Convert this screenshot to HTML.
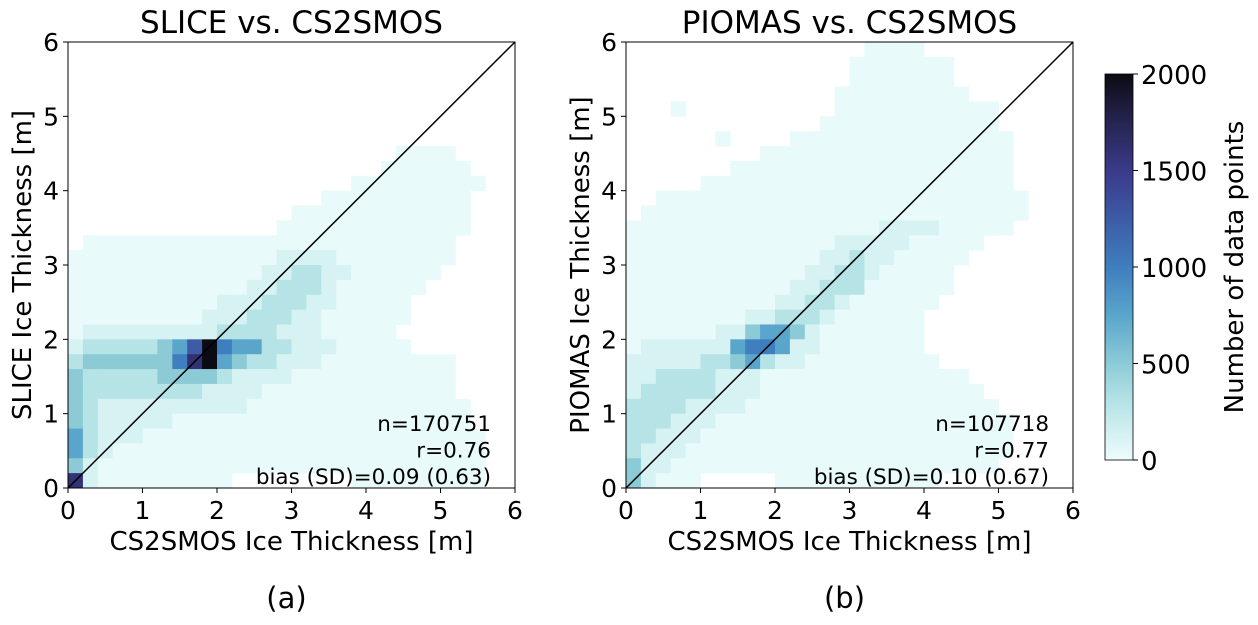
<!DOCTYPE html>
<html><head><meta charset="utf-8"><style>
body{margin:0;background:#fff;}
svg{display:block;font-family:"DejaVu Sans","Liberation Sans",sans-serif;}
</style></head><body>
<svg id="chart" width="1258" height="625" viewBox="0 0 1258 625">
<defs>
<linearGradient id="cbgrad" x1="0" y1="1" x2="0" y2="0">
<stop offset="0" stop-color="#eefcfc"/><stop offset="0.15" stop-color="#b5e3e6"/><stop offset="0.25" stop-color="#8ccbd6"/><stop offset="0.375" stop-color="#5aa5cc"/><stop offset="0.5" stop-color="#3f7ebf"/><stop offset="0.625" stop-color="#3d5ba6"/><stop offset="0.75" stop-color="#3a3a8a"/><stop offset="0.875" stop-color="#262450"/><stop offset="1" stop-color="#0c0b14"/>
</linearGradient>
</defs>
<g id="layer"></g>
</svg>
<script>
const levelCounts=[0,30,120,300,500,750,1000,1250,1600,2000];
const gridSlice=[
"000000000000000000000000000000","000000000000000000000000000000","000000000000000000000000000000","000000000000000000000000000000","000000000000000000000000000000","000000000000000000000000000000","000000000000000000000000000000",
"000000000000000000000011110000","000000000000000000000111111000","000000000000000000011111111100","000000000000000001111111111000","000000000000000111111111111000","000000000000001111111111111000",
"011111111111111111111111110000","111111111111112222111111110000","111111111111122332211111100000","111111111111223332111111000000","111111111122233322111110000000","111111111222333221111110000000",
"122222222233332221111100000000","233333457965533222111110000000","344444468954332221111111110000","433333444432222111111111110000","433333333222211111111111110000","432222222222111111111111111000",
"432222211111111111111111111000","532221111111111111111111111100","532111111111111111111111111100","421111111111111111111111111100","821111111110000000011111111100"];
const gridPiomas=[
"000000000000000011110000000000","000000000000000111111100000000","000000000000000111111100000000","000000000000001111111110000000","000100000000001111111111100000","000000000000011111111111100000",
"000000100001111111111111110000","000000000111111111111111110000","000000011111111111111111110000","000001111111111111111111110000","001111111111111111111111111000","011111111111111111111111111000",
"111111111111111112222111110000","111111111111112222211111000000","111111111111122322111110000000","111111111111223321111100000000","111111111112233311111100000000","111111111122332111111000000000",
"111111112233321111110000000000","111111224554211111110000000000","122222256652211111110000000000","222223345322111111111000000000","223333222111111111111110000000","233333222111111111111111000000",
"333322221111111111111111100000","333222111111111111111111110000","332221111111111111111111110000","322211111111111111111111110000","422111111111111111111111100000","421110000011111111111000000000"];
const axisTicks=[0,1,2,3,4,5,6];
const cbTicks=[0,500,1000,1500,2000];
const panels=[
 {x0:68,grid:gridSlice,title:"SLICE vs. CS2SMOS",ylab:"SLICE Ice Thickness [m]",xlab:"CS2SMOS Ice Thickness [m]",tag:"(a)",ann:["n=170751","r=0.76","bias (SD)=0.09 (0.63)"],name:"slice"},
 {x0:626,grid:gridPiomas,title:"PIOMAS vs. CS2SMOS",ylab:"PIOMAS Ice Thickness [m]",xlab:"CS2SMOS Ice Thickness  [m]",tag:"(b)",ann:["n=107718","r=0.77","bias (SD)=0.10 (0.67)"],name:"piomas"}];
const stops=[[0,[238,252,252]],[300,[181,227,230]],[500,[140,203,214]],[750,[90,165,204]],[1000,[63,126,191]],[1250,[61,91,166]],[1500,[58,58,138]],[1750,[38,36,80]],[2000,[12,11,20]]];
function cmap(v){for(let i=1;i<stops.length;i++){if(v<=stops[i][0]){const a=stops[i-1],b=stops[i],t=(v-a[0])/(b[0]-a[0]);const c=a[1].map((x,k)=>Math.round(x+(b[1][k]-x)*t));return `rgb(${c[0]},${c[1]},${c[2]})`;}}return "rgb(12,11,20)";}
const NS="http://www.w3.org/2000/svg";
const L=document.getElementById('layer');
function mk(tag,attrs,parent){const e=document.createElementNS(NS,tag);for(const k in attrs)e.setAttribute(k,attrs[k]);(parent||L).appendChild(e);return e;}
const Y0=42,H=446,W=447;
panels.forEach(p=>{
 const xs=v=>p.x0+v/6*W, ys=v=>Y0+H-v/6*H;
 const g=mk('g',{});
 
 
 const n=p.grid.length, bw=6/n;
 p.grid.forEach((row,r)=>{for(let c=0;c<row.length;c++){const lv=+row[c];if(!lv)continue;const cnt=levelCounts[lv];
  const y1=6-bw*(r+1),x1=bw*c;
  const rc=mk('rect',{x:xs(x1),y:ys(y1+bw),width:xs(x1+bw)-xs(x1)+0.4,height:ys(y1)-ys(y1+bw)+0.4,fill:cmap(cnt)},g);
  
  }});
 const dl=mk('line',{x1:xs(0),y1:ys(0),x2:xs(6),y2:ys(6),stroke:'#000','stroke-width':1.5},g);
 
 
 const fr=mk('rect',{x:p.x0,y:Y0,width:W,height:H,fill:'none',stroke:'#000','stroke-width':1},g);
 
 
 axisTicks.forEach(t=>{
  mk('line',{x1:xs(t),y1:Y0+H,x2:xs(t),y2:Y0+H+5,stroke:'#000'},g);
  mk('line',{x1:p.x0,y1:ys(t),x2:p.x0-5,y2:ys(t),stroke:'#000'},g);
  const tx=mk('text',{x:xs(t),y:Y0+H+31,'text-anchor':'middle','font-size':25},g);tx.textContent=t;
  
  
  const ty=mk('text',{x:p.x0-9,y:ys(t)+9,'text-anchor':'end','font-size':25},g);ty.textContent=t;
  
  
 });
 const ti=mk('text',{x:p.x0+W/2,y:33,'text-anchor':'middle','font-size':31},g);ti.textContent=p.title;
 
 
 const xl=mk('text',{x:p.x0+W/2,y:550,'text-anchor':'middle','font-size':26},g);xl.textContent=p.xlab;
 
 
 const yl=mk('text',{x:0,y:0,'text-anchor':'middle','font-size':26,transform:`translate(${p.x0-37},${Y0+H/2}) rotate(-90)`},g);yl.textContent=p.ylab;
 
 
 const tg=mk('text',{x:p.x0+W/2-5,y:608,'text-anchor':'middle','font-size':29},g);tg.textContent=p.tag;
 
 
 p.ann.forEach((s,i)=>{const a=mk('text',{x:p.x0+423,y:431+i*26.5,'text-anchor':'end','font-size':21.5},g);a.textContent=s;
  
  });
});
const cb=mk('rect',{x:1105,y:74,width:28,height:386,fill:'url(#cbgrad)',stroke:'#000','stroke-width':0.8});


cbTicks.forEach(t=>{const y=460-t/2000*386;
 mk('line',{x1:1133,y1:y,x2:1138,y2:y,stroke:'#000'});
 const e=mk('text',{x:1141,y:y+10,'font-size':26});e.textContent=t;
 
 });
const cl=mk('text',{x:0,y:0,'text-anchor':'middle','font-size':26,transform:'translate(1243,267) rotate(-90)'});cl.textContent='Number of data points';


</script>
</body></html>
